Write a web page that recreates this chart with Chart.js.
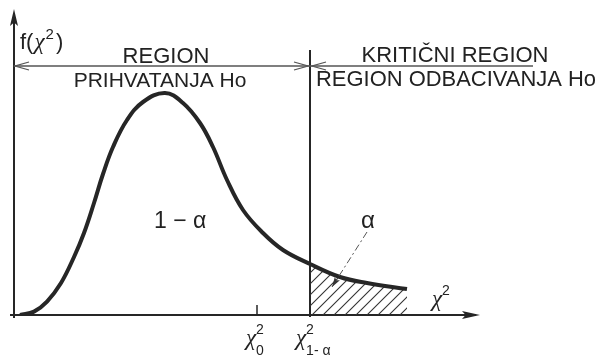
<!DOCTYPE html>
<html>
<head>
<meta charset="utf-8">
<script src="https://cdn.jsdelivr.net/npm/chart.js@4.4.1/dist/chart.umd.min.js"></script>
<style>
  html, body { margin: 0; padding: 0; background: #fff; }
  #wrap { width: 600px; height: 357px; position: relative; }
</style>
</head>
<body>
<div id="wrap"><canvas id="graf"></canvas></div>
<script>
// Gustina hi-kvadrat raspodjele: oblast prihvatanja i kritična oblast.
const hiKvadrat = [0.3, 1.0, 1.65, 2.35, 3.0, 3.5, 4.0, 4.45, 4.95, 5.65, 6.45, 7.55, 8.45, 9.3, 9.95, 10.65, 11.45, 12.45, 13.45, 14.8, 16.3, 17.65, 19.65];
const gustina = [0, 0.0017, 0.0067, 0.016, 0.029, 0.041, 0.056, 0.0705, 0.084, 0.0975, 0.1065, 0.111, 0.106, 0.096, 0.084, 0.0675, 0.0525, 0.041, 0.0325, 0.0255, 0.019, 0.016, 0.013];
const hiNula = 12.15;      // χ²₀
const hiKriticno = 14.8;   // χ²₁₋α
const xMaks = 29;
const yMaks = 0.1575;

const INK = '#262626';
const FONT = '"Liberation Sans", Arial, sans-serif';
const FONT_GRK = '"Liberation Serif", "DejaVu Serif", serif';

const krivulja = hiKvadrat.map((x, i) => ({ x, y: gustina[i] }));
const kriticna = krivulja.filter((p) => p.x >= hiKriticno);

// Šrafura za kritičnu oblast.
function srafura() {
  const k = 11;
  const c = document.createElement('canvas');
  c.width = k; c.height = k;
  const g = c.getContext('2d');
  g.strokeStyle = '#333';
  g.lineWidth = 1.1;
  g.beginPath();
  g.moveTo(-1, k + 1); g.lineTo(k + 1, -1);
  g.moveTo(-1, 1); g.lineTo(1, -1);
  g.moveTo(k - 1, k + 1); g.lineTo(k + 1, k - 1);
  g.stroke();
  return g.createPattern(c, 'repeat');
}

function strelicaPuna(ctx, x, y, ugao, duz, sir) {
  ctx.save();
  ctx.translate(x, y);
  ctx.rotate(ugao);
  ctx.beginPath();
  ctx.moveTo(0, 0);
  ctx.lineTo(-duz, -sir);
  ctx.lineTo(-duz * 0.8, 0);
  ctx.lineTo(-duz, sir);
  ctx.closePath();
  ctx.fill();
  ctx.restore();
}

function strelicaOtvorena(ctx, x, y, smjer) {
  ctx.beginPath();
  ctx.moveTo(x - smjer * 14, y - 4);
  ctx.lineTo(x, y);
  ctx.lineTo(x - smjer * 14, y + 4);
  ctx.stroke();
}

// Crta tekst i vraća x-koordinatu njegovog kraja.
function tekst(ctx, s, x, y, vel, align, sirina) {
  ctx.save();
  ctx.font = vel + 'px ' + FONT;
  ctx.textAlign = align || 'left';
  ctx.textBaseline = 'alphabetic';
  let w = ctx.measureText(s).width;
  if (sirina) {
    ctx.translate(x, y);
    ctx.scale(sirina / w, 1);
    ctx.fillText(s, 0, 0);
    w = sirina;
  } else {
    ctx.fillText(s, x, y);
  }
  ctx.restore();
  return x + w;
}

function hiSlovo(ctx, x, y, vel) {
  ctx.save();
  ctx.font = 'italic ' + vel + 'px ' + FONT_GRK;
  ctx.fillText('χ', x, y);
  const kraj = x + ctx.measureText('χ').width;
  ctx.restore();
  return kraj;
}

function hiOznaka(ctx, x, y, indeks) {
  const kraj = hiSlovo(ctx, x, y, 23);
  tekst(ctx, '2', kraj, y - 11, 14);
  if (indeks) tekst(ctx, indeks, kraj, y + 10, 14);
}

const osePlugin = {
  id: 'ose',
  beforeDatasetsDraw(chart) {
    const { ctx, scales: { x, y } } = chart;
    const x0 = x.getPixelForValue(0);
    const y0 = y.getPixelForValue(0);
    ctx.save();
    ctx.strokeStyle = INK;
    ctx.fillStyle = INK;
    ctx.lineWidth = 2;

    // ose sa strelicama
    ctx.beginPath();
    ctx.moveTo(x0, y0 + 3); ctx.lineTo(x0, 14);
    ctx.moveTo(x0 - 4, y0); ctx.lineTo(x.getPixelForValue(23.1), y0);
    ctx.stroke();
    strelicaPuna(ctx, x0, 9, -Math.PI / 2, 17, 4);
    strelicaPuna(ctx, x.getPixelForValue(23.3), y0, 0, 18, 4);

    // granica kritične oblasti
    const xk = x.getPixelForValue(hiKriticno);
    ctx.beginPath();
    ctx.moveTo(xk, y0 + 2); ctx.lineTo(xk, y.getPixelForValue(0.1325));
    ctx.stroke();

    // oznaka χ²₀ na osi
    const xn = x.getPixelForValue(hiNula);
    ctx.lineWidth = 1.5;
    ctx.beginPath();
    ctx.moveTo(xn, y0); ctx.lineTo(xn, y0 - 10);
    ctx.stroke();

    // strelice oblasti
    const yr = y.getPixelForValue(0.1245);
    ctx.strokeStyle = '#555';
    ctx.lineWidth = 1.3;
    ctx.beginPath();
    ctx.moveTo(x0, yr); ctx.lineTo(x.getPixelForValue(25.95), yr);
    ctx.stroke();
    strelicaOtvorena(ctx, x0 + 1, yr, -1);
    strelicaOtvorena(ctx, xk - 2, yr, 1);
    strelicaOtvorena(ctx, xk + 2, yr, -1);
    ctx.restore();
  },
  afterDraw(chart) {
    const { ctx, scales: { x, y } } = chart;
    ctx.save();
    ctx.fillStyle = '#222';

    tekst(ctx, 'REGION', 166, 63, 22, 'center');
    tekst(ctx, 'PRIHVATANJA Ho', 160, 87, 21, 'center');
    tekst(ctx, 'KRITIČNI REGION', 455, 62, 22, 'center');
    tekst(ctx, 'REGION ODBACIVANJA Ho', 316, 86, 22, 'left', 280);

    // f(χ²)
    let k = tekst(ctx, 'f(', 20, 49, 22);
    k = hiSlovo(ctx, k + 1, 49, 23);
    k = tekst(ctx, '2', k + 1, 39, 15);
    tekst(ctx, ')', k + 2, 49, 22);

    tekst(ctx, '1 − α', 154, 228, 23);
    tekst(ctx, 'α', 361, 228, 24);

    hiOznaka(ctx, 432, 306);
    hiOznaka(ctx, 246, 345, '0');
    hiOznaka(ctx, 296, 345, '1- α');

    // isprekidana strelica prema površini α
    const ax = x.getPixelForValue(17.65), ay = y.getPixelForValue(0.0415);
    const bx = x.getPixelForValue(15.9), by = y.getPixelForValue(0.014);
    ctx.strokeStyle = '#555';
    ctx.lineWidth = 1;
    ctx.setLineDash([7, 3, 2, 3]);
    ctx.beginPath();
    ctx.moveTo(ax, ay); ctx.lineTo(bx, by);
    ctx.stroke();
    ctx.setLineDash([]);
    ctx.fillStyle = '#333';
    strelicaPuna(ctx, bx, by, Math.atan2(by - ay, bx - ax), 10, 3);
    ctx.restore();
  },
};

new Chart(document.getElementById('graf'), {
  type: 'line',
  data: {
    datasets: [
      {
        data: krivulja,
        borderColor: INK,
        borderWidth: 4,
        pointRadius: 0,
        tension: 0.4,
        fill: false,
        order: 1,
      },
      {
        data: kriticna,
        borderWidth: 0,
        borderColor: 'rgba(0,0,0,0)',
        backgroundColor: srafura(),
        pointRadius: 0,
        tension: 0.4,
        fill: 'origin',
        order: 2,
      },
    ],
  },
  options: {
    responsive: true,
    maintainAspectRatio: false,
    animation: false,
    layout: { padding: { left: 14, top: 0, right: 6, bottom: 42 } },
    scales: {
      x: { type: 'linear', min: 0, max: xMaks, display: false },
      y: { min: 0, max: yMaks, display: false },
    },
    plugins: {
      legend: { display: false },
      tooltip: { enabled: false },
    },
  },
  plugins: [osePlugin],
});
</script>
</body>
</html>
